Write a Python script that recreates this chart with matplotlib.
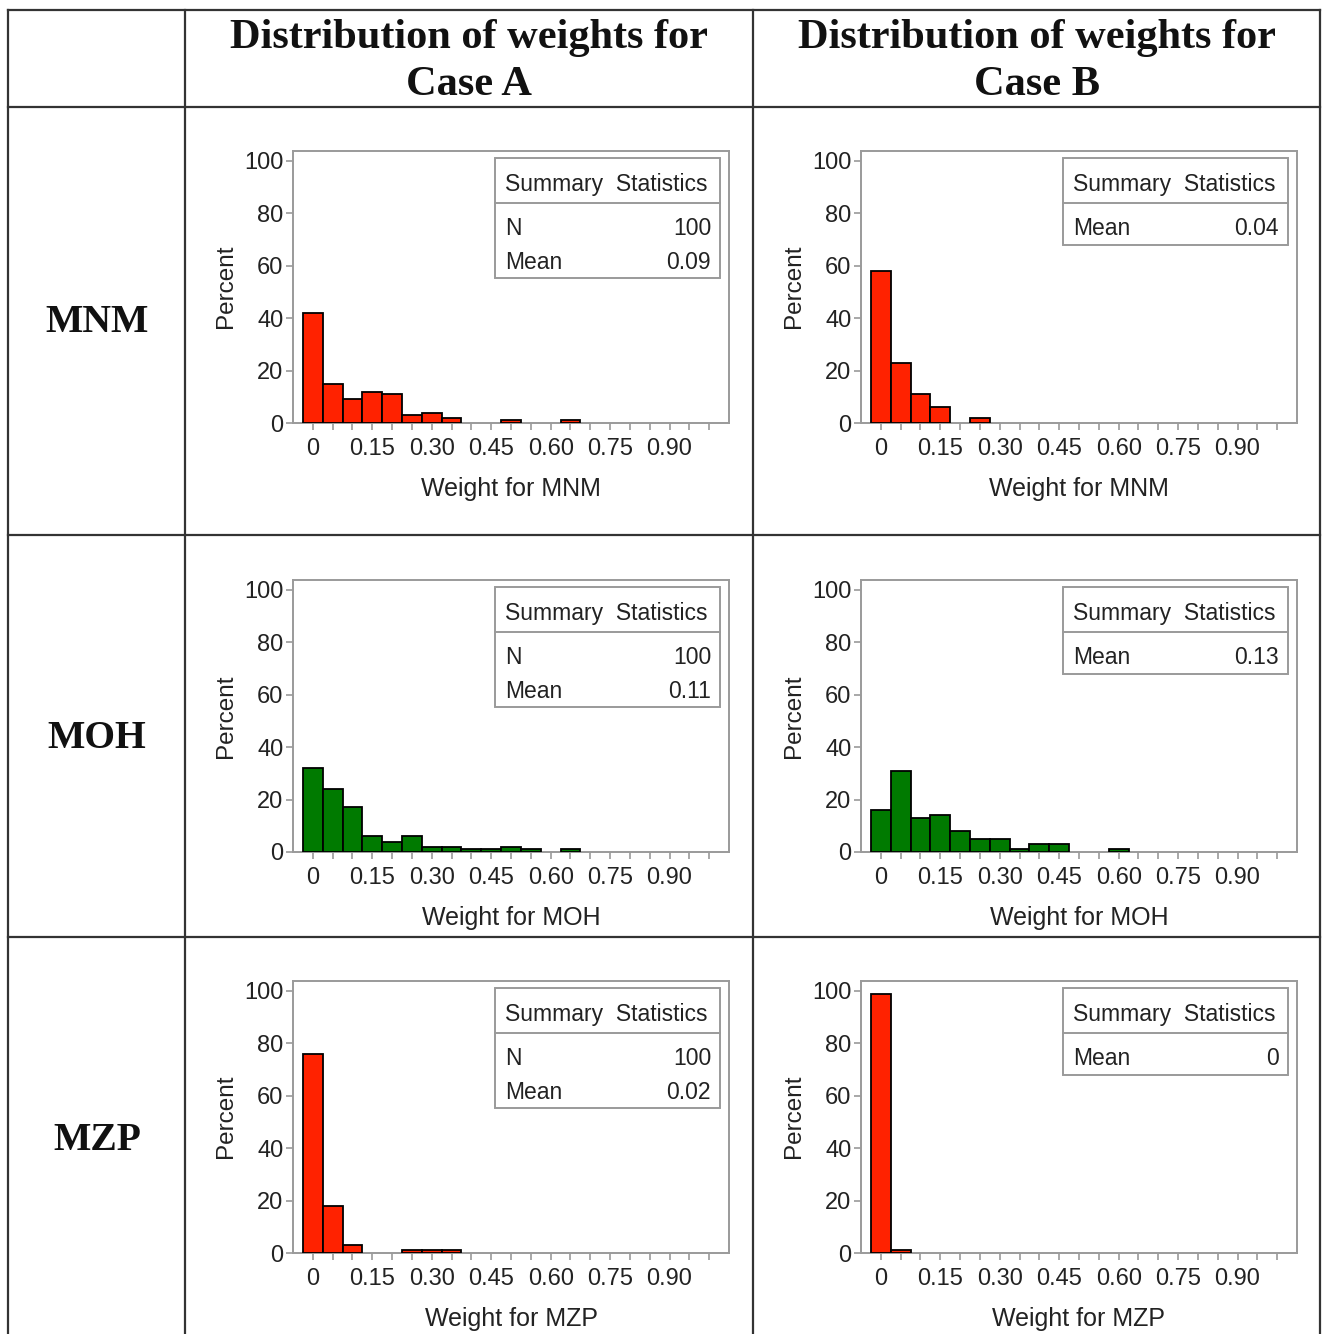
import numpy as np
import matplotlib.pyplot as plt
from matplotlib.patches import Rectangle
from matplotlib.lines import Line2D

# Percent of weights per bin (bins of width 0.05 centred at 0, 0.05, 0.10, ...)
mnm_a = [42, 15, 9, 12, 11, 3, 4, 2, 0, 0, 1, 0, 0, 1]
mnm_b = [58, 23, 11, 6, 0, 2]
moh_a = [32, 24, 17, 6, 4, 6, 2, 2, 1, 1, 2, 1, 0, 1]
moh_b = [16, 31, 13, 14, 8, 5, 5, 1, 3, 3, 0, 0, 1]
mzp_a = [76, 18, 3, 0, 0, 1, 1, 1]
mzp_b = [99, 1]

row_names = ["MNM", "MOH", "MZP"]
row_colors = ["#FF2200", "#007A00", "#FF2200"]
title_line1 = "Distribution of weights for"
case_names = ["Case A", "Case B"]
n_a = "100"
means_a = ["0.09", "0.11", "0.02"]
means_b = ["0.04", "0.13", "0"]
bin_width = 0.05
xtick_vals = [0, 0.15, 0.30, 0.45, 0.60, 0.75, 0.90]
xtick_labels = ["0", "0.15", "0.30", "0.45", "0.60", "0.75", "0.90"]

data = [[mnm_a, mnm_b], [moh_a, moh_b], [mzp_a, mzp_b]]
means = [means_a, means_b]

W, H = 1326, 1334
fig = plt.figure(figsize=(W / 100, H / 100), dpi=100)

sans = "Liberation Sans"
serif = "Liberation Serif"
grey = "#9a9a9a"
txt = "#222222"

# table grid (pixel coordinates -> figure fraction)
def fx(px):
    return px / W

def fy(py):
    return 1 - py / H

for x in [8, 185, 753, 1320]:
    fig.add_artist(Line2D([fx(x), fx(x)], [fy(10), 0], color="#333333", lw=1.6))
for y in [10, 107, 535, 937]:
    fig.add_artist(Line2D([fx(8), fx(1320)], [fy(y), fy(y)], color="#333333", lw=1.6))

# column headers and row labels
for j, case in enumerate(case_names):
    cx = [469, 1037][j]
    fig.text(fx(cx), fy(38), title_line1, ha="center", va="center", family=serif,
             weight="bold", fontsize=30.5, color="#111111")
    fig.text(fx(cx), fy(85), case, ha="center", va="center", family=serif,
             weight="bold", fontsize=30.5, color="#111111")
for i, name in enumerate(row_names):
    fig.text(fx(97), fy([323, 738, 1140][i]), name, ha="center", va="center",
             family=serif, weight="bold", fontsize=28.5, color="#111111")

lefts = [293, 861]
zero_lines = [423, 852, 1253]
ax_w = 436
ax_h = 272.5

for i in range(3):
    for j in range(2):
        vals = np.array(data[i][j], dtype=float)
        centers = np.arange(len(vals)) * bin_width
        keep = vals > 0
        ax = fig.add_axes([fx(lefts[j]), fy(zero_lines[i]), ax_w / W, ax_h / H])
        ax.bar(centers[keep], vals[keep], width=bin_width, color=row_colors[i],
               edgecolor="black", linewidth=1.3, zorder=3)
        ax.set_xlim(-0.05, 1.05)
        ax.set_ylim(0, 104)
        ax.set_xticks(xtick_vals)
        ax.set_xticklabels(xtick_labels)
        ax.set_xticks(np.arange(0, 1.0001, 0.05), minor=True)
        ax.set_yticks([0, 20, 40, 60, 80, 100])
        for s in ax.spines.values():
            s.set_color(grey)
            s.set_linewidth(1.4)
        ax.tick_params(which="both", direction="out", length=5, width=1.2,
                       color=grey, labelsize=17, labelcolor=txt)
        ax.tick_params(axis="y", pad=2)
        ax.tick_params(axis="x", pad=6)
        for lab in ax.get_xticklabels() + ax.get_yticklabels():
            lab.set_family(sans)
        ax.set_xlabel("Weight for " + row_names[i], family=sans, fontsize=18,
                      color=txt, labelpad=12)
        ax.set_ylabel("Percent", family=sans, fontsize=17.5, color=txt, labelpad=5)

        # summary statistics inset
        bottom = 0.532 if j == 0 else 0.653
        ax.add_patch(Rectangle((0.463, bottom), 0.516, 0.972 - bottom,
                               transform=ax.transAxes, fill=False,
                               edgecolor=grey, lw=1.4, zorder=4))
        ax.add_line(Line2D([0.463, 0.979], [0.807, 0.807], transform=ax.transAxes,
                           color=grey, lw=1.4, zorder=4))
        ax.text(0.486, 0.875, "Summary  Statistics", transform=ax.transAxes,
                ha="left", va="center", family=sans, fontsize=16.5, color=txt)
        if j == 0:
            ax.text(0.486, 0.713, "N", transform=ax.transAxes, ha="left",
                    va="center", family=sans, fontsize=16.5, color=txt)
            ax.text(0.959, 0.713, n_a, transform=ax.transAxes, ha="right",
                    va="center", family=sans, fontsize=16.5, color=txt)
            my = 0.589
        else:
            my = 0.713
        ax.text(0.486, my, "Mean", transform=ax.transAxes, ha="left",
                va="center", family=sans, fontsize=16.5, color=txt)
        ax.text(0.959, my, means[j][i], transform=ax.transAxes, ha="right",
                va="center", family=sans, fontsize=16.5, color=txt)

fig.savefig("out.png", dpi=100)
